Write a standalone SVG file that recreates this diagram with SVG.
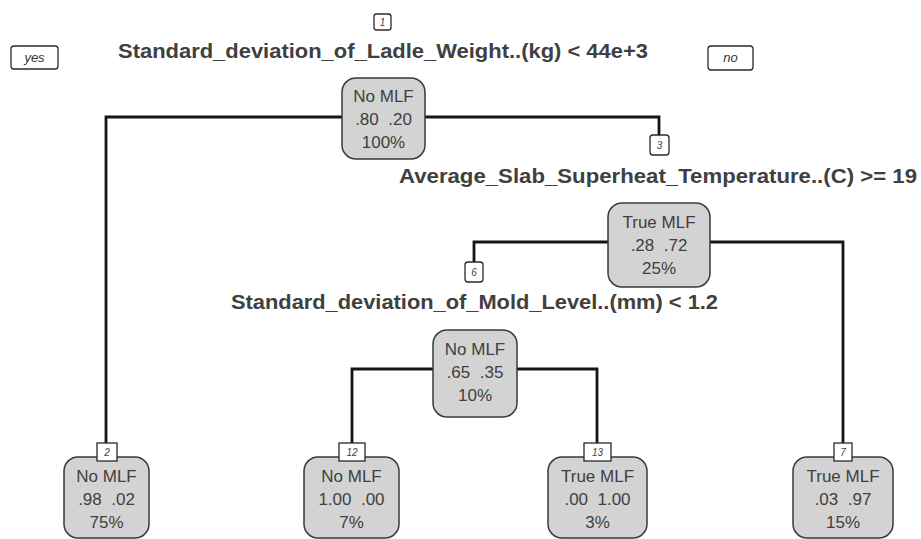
<svg xmlns="http://www.w3.org/2000/svg" width="921" height="539" viewBox="0 0 921 539">
<style>
.bg{fill:#ffffff}
.node rect.box{fill:#d3d3d3;stroke:#3a3a3a;stroke-width:1.5}
.node text{font-family:"Liberation Sans",Arial,sans-serif;font-size:17px;fill:#404040;text-anchor:middle;white-space:pre}
.split{font-family:"Liberation Sans",Arial,sans-serif;font-size:20px;font-weight:bold;fill:#1e1e1e}
.num rect{fill:#ffffff;stroke:#2a2a2a;stroke-width:1.3}
.num text{font-family:"Liberation Sans",Arial,sans-serif;font-size:10px;font-style:italic;fill:#444;text-anchor:middle}
.edge{fill:none;stroke:#151515;stroke-width:2.8}
.yn rect{fill:#ffffff;stroke:#2a2a2a;stroke-width:1.3}
.yn text{font-family:"Liberation Sans",Arial,sans-serif;font-size:13px;font-style:italic;fill:#333;text-anchor:middle}
</style>
<rect class="bg" x="0" y="0" width="921" height="539"/>

<g id="connectors">
<path class="edge" d="M342,117 H106 V443"/>
<path class="edge" d="M425,117 H659 V135"/>
<path class="edge" d="M608,242 H474 V262"/>
<path class="edge" d="M710,242 H843 V443"/>
<path class="edge" d="M433,369 H352 V443"/>
<path class="edge" d="M517,369 H597 V443"/>
</g>

<g id="yes" class="yn"><rect x="11" y="46" width="47" height="23" rx="3"/><text x="34.5" y="62">yes</text></g>
<g id="no" class="yn"><rect x="708" y="46" width="45" height="24" rx="3"/><text x="730.5" y="62">no</text></g>

<g id="node1" class="node">
<g class="num"><rect x="374" y="14" width="17" height="16" rx="2.5"/><text x="382.5" y="26">1</text></g>
<text class="split" x="118" y="58" textLength="530" lengthAdjust="spacingAndGlyphs" style="text-anchor:start;font-size:20px">Standard_deviation_of_Ladle_Weight..(kg) &lt; 44e+3</text>
<rect class="box" x="342" y="78" width="83" height="81" rx="14"/>
<text x="383.5" y="102">No MLF</text>
<text x="383.5" y="125" xml:space="preserve">.80  .20</text>
<text x="383.5" y="148">100%</text>
</g>

<g id="node3" class="node">
<g class="num"><rect x="650" y="135" width="19" height="20" rx="3"/><text x="659.5" y="149">3</text></g>
<text class="split" x="399" y="183" textLength="518" lengthAdjust="spacingAndGlyphs" style="text-anchor:start;font-size:20px">Average_Slab_Superheat_Temperature..(C) &gt;= 19</text>
<rect class="box" x="608" y="203" width="102" height="84" rx="14"/>
<text x="659" y="228">True MLF</text>
<text x="659" y="251" xml:space="preserve">.28  .72</text>
<text x="659" y="274">25%</text>
</g>

<g id="node6" class="node">
<g class="num"><rect x="465" y="262" width="18" height="20" rx="3"/><text x="474" y="276">6</text></g>
<text class="split" x="231" y="309" textLength="487" lengthAdjust="spacingAndGlyphs" style="text-anchor:start;font-size:20px">Standard_deviation_of_Mold_Level..(mm) &lt; 1.2</text>
<rect class="box" x="433" y="330" width="84" height="87" rx="14"/>
<text x="475" y="355">No MLF</text>
<text x="475" y="378" xml:space="preserve">.65  .35</text>
<text x="475" y="401">10%</text>
</g>

<g id="node2" class="node">
<rect class="box" x="64" y="457" width="85" height="81" rx="14"/>
<g class="num"><rect x="97" y="443" width="20" height="18"/><text x="107" y="456">2</text></g>
<text x="106.5" y="482">No MLF</text>
<text x="106.5" y="505" xml:space="preserve">.98  .02</text>
<text x="106.5" y="528">75%</text>
</g>

<g id="node12" class="node">
<rect class="box" x="304" y="457" width="95" height="81" rx="14"/>
<g class="num"><rect x="339" y="443" width="26" height="18"/><text x="352" y="456">12</text></g>
<text x="351.5" y="482">No MLF</text>
<text x="351.5" y="505" xml:space="preserve">1.00  .00</text>
<text x="351.5" y="528">7%</text>
</g>

<g id="node13" class="node">
<rect class="box" x="548" y="457" width="99" height="81" rx="14"/>
<g class="num"><rect x="584" y="443" width="27" height="18"/><text x="597.5" y="456">13</text></g>
<text x="597.5" y="482">True MLF</text>
<text x="597.5" y="505" xml:space="preserve">.00  1.00</text>
<text x="597.5" y="528">3%</text>
</g>

<g id="node7" class="node">
<rect class="box" x="793" y="457" width="100" height="81" rx="14"/>
<g class="num"><rect x="834" y="443" width="18" height="18"/><text x="843" y="456">7</text></g>
<text x="843" y="482">True MLF</text>
<text x="843" y="505" xml:space="preserve">.03  .97</text>
<text x="843" y="528">15%</text>
</g>
</svg>
